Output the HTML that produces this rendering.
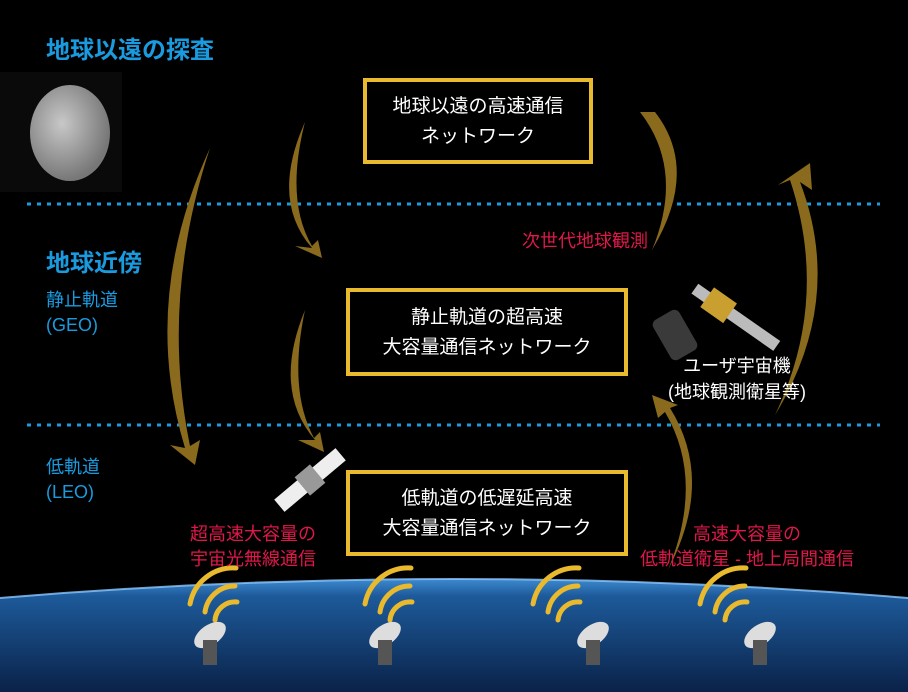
<!DOCTYPE html>
<html><head><meta charset="utf-8"><style>
body{margin:0;background:#000;}
#c{position:relative;width:908px;height:692px;overflow:hidden;background:#000;font-family:"Liberation Sans","Noto Sans CJK JP",sans-serif;}
.t{position:absolute;white-space:nowrap;}
.bx{position:absolute;border:4px solid #e9b92e;color:#fff;font-size:19px;line-height:30px;text-align:center;box-sizing:border-box;}
.blue{color:#1a9be0;}
.red{color:#e0184a;font-size:18px;line-height:25px;text-align:center;}
</style></head><body><div id="c">
<svg width="908" height="692" style="position:absolute;left:0;top:0">
<defs>
<linearGradient id="e" x1="0" y1="0" x2="0" y2="1">
<stop offset="0" stop-color="#3d8ad0"/><stop offset="0.15" stop-color="#1d5a9a"/><stop offset="1" stop-color="#0a2248"/></linearGradient>
<radialGradient id="v" cx="40%" cy="40%" r="60%"><stop offset="0" stop-color="#c8c8c8"/><stop offset="1" stop-color="#777"/></radialGradient>
</defs>
<path d="M0,598 Q454,560 908,598 L908,692 L0,692Z" fill="url(#e)"/>
<path d="M0,598 Q454,560 908,598" stroke="#8cc8ff" stroke-width="2" fill="none" opacity="0.8"/>
<rect x="0" y="72" width="122" height="120" fill="#0a0a0a"/>
<ellipse cx="70" cy="133" rx="40" ry="48" fill="url(#v)"/>
<line x1="27" y1="204" x2="880" y2="204" stroke="#1a9be0" stroke-width="3" stroke-dasharray="4,6"/>
<line x1="27" y1="425" x2="880" y2="425" stroke="#1a9be0" stroke-width="3" stroke-dasharray="4,6"/>
<g fill="#8a6a1c">
<path d="M210,148 Q140,300 185,448 L170,445 L195,465 L200,440 L190,446 Q160,300 210,148Z"/>
<path d="M305,122 Q270,200 312,248 L295,246 L322,258 L318,240 L312,246 Q285,200 305,122Z"/>
<path d="M305,310 Q272,390 315,440 L298,440 L324,452 L320,432 L314,438 Q288,390 305,310Z"/>
<path d="M775,415 Q830,300 790,180 L778,185 L810,163 L812,190 L800,182 Q845,300 775,415Z"/>
<path d="M655,112 Q700,170 652,250 Q685,170 640,112 L655,112Z" />
<path d="M668,570 Q705,480 665,412 L658,418 L652,395 L678,405 L670,408 Q715,480 668,570Z"/>
</g>
<g fill="none" stroke="#e9b92e" stroke-width="5" stroke-linecap="round">
<path d="M205,612 a30,30 0 0 1 30,-26"/><path d="M215,620 a20,20 0 0 1 22,-18"/>
<path d="M380,612 a30,30 0 0 1 30,-26"/><path d="M390,620 a20,20 0 0 1 22,-18"/>
<path d="M548,612 a30,30 0 0 1 30,-26"/><path d="M558,620 a20,20 0 0 1 22,-18"/>
<path d="M715,612 a30,30 0 0 1 30,-26"/><path d="M725,620 a20,20 0 0 1 22,-18"/>
<path d="M190,604 a44,44 0 0 1 46,-36"/><path d="M365,604 a44,44 0 0 1 46,-36"/><path d="M533,604 a44,44 0 0 1 46,-36"/><path d="M700,604 a44,44 0 0 1 46,-36"/>
</g>
<g fill="#ddd">
<ellipse cx="210" cy="635" rx="18" ry="10" transform="rotate(-35 210 635)"/><rect x="203" y="640" width="14" height="25" fill="#555"/>
<ellipse cx="385" cy="635" rx="18" ry="10" transform="rotate(-35 385 635)"/><rect x="378" y="640" width="14" height="25" fill="#555"/>
<ellipse cx="593" cy="635" rx="18" ry="10" transform="rotate(-35 593 635)"/><rect x="586" y="640" width="14" height="25" fill="#555"/>
<ellipse cx="760" cy="635" rx="18" ry="10" transform="rotate(-35 760 635)"/><rect x="753" y="640" width="14" height="25" fill="#555"/>
</g>
<g transform="rotate(-40 310 480)">
<rect x="270" y="472" width="80" height="16" fill="#eee"/><rect x="300" y="468" width="20" height="24" fill="#999"/>
</g>
<g transform="rotate(35 720 305)">
<rect x="690" y="300" width="100" height="12" fill="#bbb"/><rect x="705" y="294" width="28" height="24" fill="#c9a030"/>
</g>
<g transform="rotate(-30 675 335)"><rect x="660" y="312" width="30" height="46" rx="6" fill="#3a3a3a"/></g>
</svg>
<div class="t blue" style="left:46px;top:30px;font-size:24px;font-weight:bold">地球以遠の探査</div>
<div class="t blue" style="left:46px;top:243px;font-size:24px;font-weight:bold">地球近傍</div>
<div class="t blue" style="left:46px;top:288px;font-size:18px;line-height:25px">静止軌道<br>(GEO)</div>
<div class="t blue" style="left:46px;top:455px;font-size:18px;line-height:25px">低軌道<br>(LEO)</div>
<div class="bx" style="left:363px;top:78px;width:230px;height:86px;padding-top:10px">地球以遠の高速通信<br>ネットワーク</div>
<div class="bx" style="left:346px;top:288px;width:282px;height:88px;padding-top:11px">静止軌道の超高速<br>大容量通信ネットワーク</div>
<div class="bx" style="left:346px;top:470px;width:282px;height:86px;padding-top:10px">低軌道の低遅延高速<br>大容量通信ネットワーク</div>
<div class="t red" style="left:522px;top:229px">次世代地球観測</div>
<div class="t red" style="left:190px;top:522px">超高速大容量の<br>宇宙光無線通信</div>
<div class="t red" style="left:640px;top:522px">高速大容量の<br>低軌道衛星 - 地上局間通信</div>
<div class="t" style="left:668px;top:353px;color:#fff;font-size:18px;line-height:26px;text-align:center">ユーザ宇宙機<br>(地球観測衛星等)</div>
</div></body></html>
